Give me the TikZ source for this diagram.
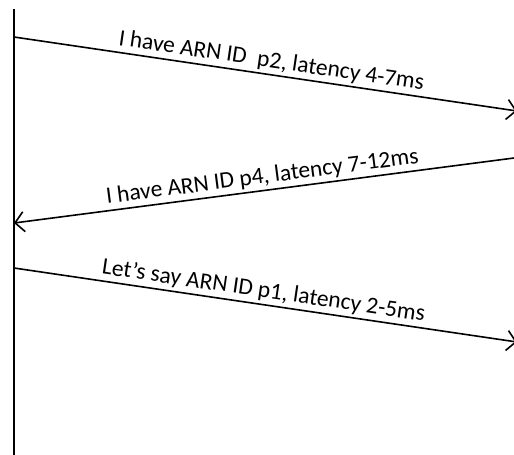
\documentclass[tikz,border=0pt]{standalone}
\usepackage{fontspec}
\setmainfont{Carlito}
\usetikzlibrary{arrows.meta}
\tikzset{
    x=1pt,
    y=-1pt,
    msg/.style = {
        draw,
        line width=1.6pt,
        -{Straight Barb[length=9pt,width=20pt,line width=1.6pt]}
    },
    msglabel/.style = {
        midway,
        above,
        sloped,
        inner sep=2.5pt,
        font=\fontsize{23.5}{27}\selectfont
    },
}

\begin{document}
\begin{tikzpicture}
    \useasboundingbox (0,0) rectangle (514,455);
    \coordinate (lifetop) at (14,9);
    \coordinate (lifebot) at (14,455);
    \coordinate (s1) at (14,37);
    \coordinate (e1) at (517,111);
    \coordinate (s2) at (514,158);
    \coordinate (e2) at (14,223);
    \coordinate (s3) at (14,268);
    \coordinate (e3) at (517,342);

    \path[draw, line width=1.6pt] (lifetop) -- (lifebot);
    \path[msg] (s1) -- (e1) node[msglabel, xshift=4pt] (m1) {I have ARN ID\ \ p2, latency 4-7ms};
    \path[msg] (s2) -- (e2) node[msglabel] (m2) {I have ARN ID p4, latency 7-12ms};
    \path[msg] (s3) -- (e3) node[msglabel, xshift=-4pt] (m3) {Let’s say ARN ID p1, latency 2-5ms};
\end{tikzpicture}
\end{document}
